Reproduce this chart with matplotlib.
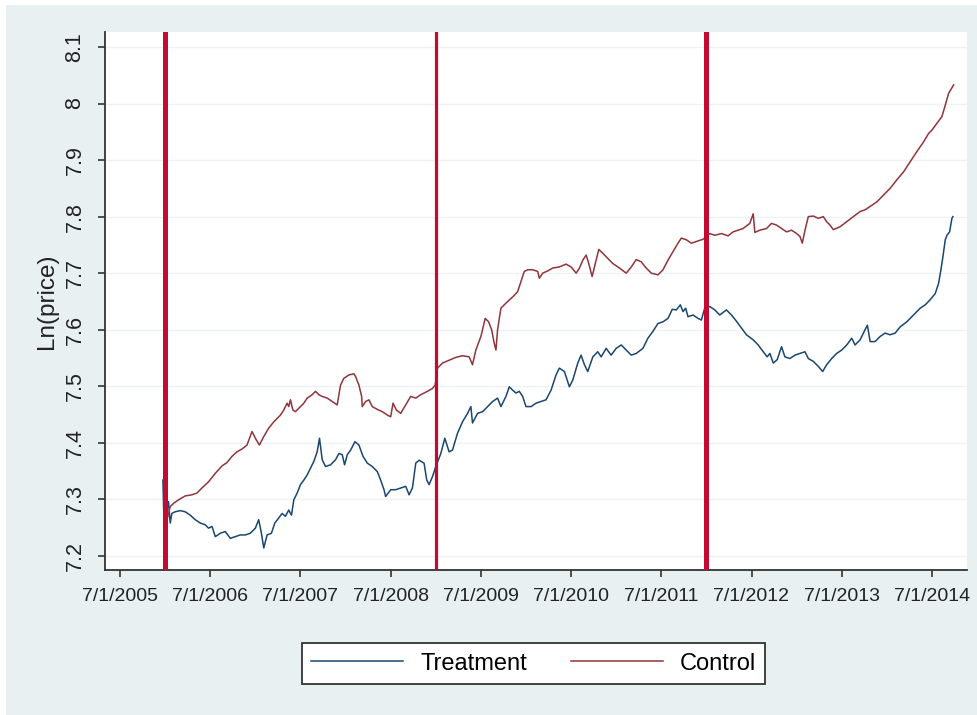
import matplotlib
matplotlib.use("Agg")
import matplotlib.pyplot as plt
from matplotlib.patches import Rectangle

plt.rcParams['font.family'] = ['Liberation Sans', 'DejaVu Sans']

# decimal years, values
treat_x = [2005.975, 2005.99, 2006.01, 2006.037, 2006.056, 2006.074, 2006.111, 2006.167,
           2006.222, 2006.278, 2006.333, 2006.389, 2006.444, 2006.481, 2006.519, 2006.556,
           2006.611, 2006.667, 2006.722, 2006.778, 2006.833, 2006.889, 2006.944, 2007.0,
           2007.037, 2007.067, 2007.093, 2007.130, 2007.178, 2007.215, 2007.259, 2007.296,
           2007.333, 2007.370, 2007.400, 2007.426, 2007.463, 2007.5, 2007.537, 2007.574,
           2007.611, 2007.648, 2007.685, 2007.711, 2007.741, 2007.778, 2007.833, 2007.889,
           2007.926, 2007.963, 2007.989, 2008.019, 2008.056, 2008.104, 2008.148, 2008.193,
           2008.241, 2008.296, 2008.352, 2008.389, 2008.426, 2008.444, 2008.5, 2008.556,
           2008.611, 2008.667, 2008.704, 2008.741, 2008.778, 2008.815, 2008.870, 2008.9,
           2008.926, 2008.963, 2009.0, 2009.056, 2009.1, 2009.148, 2009.185, 2009.241,
           2009.296, 2009.352, 2009.389, 2009.407, 2009.463, 2009.519, 2009.574, 2009.630,
           2009.685, 2009.722, 2009.778, 2009.815, 2009.852, 2009.889, 2009.926, 2009.963,
           2010.0, 2010.056, 2010.111, 2010.167, 2010.222, 2010.278, 2010.333, 2010.370,
           2010.426, 2010.481, 2010.519, 2010.574, 2010.611, 2010.648, 2010.685, 2010.741,
           2010.796, 2010.833, 2010.889, 2010.944, 2011.0, 2011.056, 2011.111, 2011.167,
           2011.222, 2011.296, 2011.352, 2011.407, 2011.463, 2011.519, 2011.574, 2011.622,
           2011.667, 2011.711, 2011.741, 2011.770, 2011.796, 2011.852, 2011.907, 2011.944,
           2011.981, 2012.037, 2012.093, 2012.148, 2012.222, 2012.278, 2012.333, 2012.389,
           2012.444, 2012.519, 2012.574, 2012.630, 2012.674, 2012.704, 2012.741, 2012.785,
           2012.833, 2012.870, 2012.926, 2012.981, 2013.037, 2013.093, 2013.130, 2013.185,
           2013.241, 2013.289, 2013.333, 2013.389, 2013.444, 2013.5, 2013.556, 2013.611,
           2013.648, 2013.704, 2013.759, 2013.785, 2013.815, 2013.870, 2013.926, 2013.981,
           2014.037, 2014.093, 2014.148, 2014.222, 2014.296, 2014.370, 2014.426, 2014.481,
           2014.537, 2014.574, 2014.6, 2014.622, 2014.648, 2014.667, 2014.696, 2014.722,
           2014.733]
treat_y = [7.334, 7.240, 7.272, 7.296, 7.258, 7.275, 7.278, 7.280,
           7.278, 7.272, 7.264, 7.258, 7.255, 7.249, 7.252, 7.234,
           7.240, 7.243, 7.231, 7.234, 7.237, 7.237, 7.240, 7.249,
           7.264, 7.240, 7.214, 7.237, 7.240, 7.258, 7.267, 7.275,
           7.270, 7.281, 7.272, 7.299, 7.311, 7.326, 7.334, 7.343,
           7.355, 7.367, 7.384, 7.408, 7.370, 7.358, 7.361, 7.370,
           7.381, 7.379, 7.361, 7.379, 7.387, 7.402, 7.396, 7.376,
           7.364, 7.358, 7.349, 7.334, 7.317, 7.305, 7.317, 7.317,
           7.320, 7.323, 7.308, 7.320, 7.364, 7.369, 7.364, 7.334,
           7.326, 7.340, 7.358, 7.381, 7.408, 7.384, 7.387, 7.417,
           7.437, 7.452, 7.464, 7.435, 7.452, 7.455, 7.464, 7.473,
           7.479, 7.464, 7.482, 7.499, 7.493, 7.488, 7.491, 7.482,
           7.464, 7.464, 7.470, 7.473, 7.476, 7.493, 7.520, 7.532,
           7.526, 7.499, 7.511, 7.541, 7.555, 7.538, 7.526, 7.552,
           7.561, 7.552, 7.567, 7.555, 7.567, 7.573, 7.564, 7.555,
           7.558, 7.567, 7.585, 7.597, 7.611, 7.614, 7.620, 7.636,
           7.635, 7.644, 7.632, 7.638, 7.623, 7.626, 7.620, 7.617,
           7.638, 7.641, 7.635, 7.626, 7.635, 7.626, 7.615, 7.603,
           7.591, 7.582, 7.573, 7.561, 7.552, 7.558, 7.541, 7.547,
           7.570, 7.552, 7.549, 7.555, 7.558, 7.561, 7.549, 7.544,
           7.535, 7.526, 7.538, 7.549, 7.558, 7.564, 7.573, 7.585,
           7.573, 7.582, 7.600, 7.608, 7.579, 7.579, 7.588, 7.594,
           7.591, 7.594, 7.605, 7.614, 7.626, 7.638, 7.644, 7.653,
           7.664, 7.682, 7.706, 7.729, 7.759, 7.767, 7.773, 7.797,
           7.800]

ctrl_x = [2005.99, 2006.03, 2006.056, 2006.093, 2006.148, 2006.222, 2006.296, 2006.352,
          2006.407, 2006.481, 2006.556, 2006.630, 2006.685, 2006.741, 2006.796, 2006.852,
          2006.907, 2006.963, 2007.0, 2007.044, 2007.093, 2007.148, 2007.204, 2007.241,
          2007.278, 2007.315, 2007.352, 2007.370, 2007.389, 2007.415, 2007.444, 2007.481,
          2007.537, 2007.574, 2007.630, 2007.667, 2007.704, 2007.741, 2007.796, 2007.852,
          2007.907, 2007.944, 2007.981, 2008.037, 2008.093, 2008.111, 2008.148, 2008.178,
          2008.185, 2008.222, 2008.259, 2008.296, 2008.352, 2008.407, 2008.463, 2008.5,
          2008.526, 2008.563, 2008.611, 2008.667, 2008.722, 2008.778, 2008.833, 2008.907,
          2008.963, 2008.993, 2009.019, 2009.074, 2009.148, 2009.222, 2009.296, 2009.370,
          2009.407, 2009.444, 2009.5, 2009.548, 2009.585, 2009.619, 2009.648, 2009.667,
          2009.685, 2009.722, 2009.778, 2009.852, 2009.907, 2009.944, 2009.981, 2010.019,
          2010.074, 2010.130, 2010.148, 2010.185, 2010.241, 2010.296, 2010.370, 2010.444,
          2010.5, 2010.556, 2010.593, 2010.630, 2010.667, 2010.696, 2010.733, 2010.778,
          2010.807, 2010.852, 2010.907, 2010.963, 2011.037, 2011.111, 2011.167, 2011.222,
          2011.278, 2011.333, 2011.389, 2011.463, 2011.519, 2011.574, 2011.630, 2011.685,
          2011.722, 2011.778, 2011.833, 2011.889, 2011.963, 2012.037, 2012.093, 2012.167,
          2012.241, 2012.296, 2012.370, 2012.407, 2012.481, 2012.519, 2012.537, 2012.593,
          2012.667, 2012.722, 2012.778, 2012.833, 2012.889, 2012.944, 2013.0, 2013.037,
          2013.063, 2013.093, 2013.130, 2013.185, 2013.241, 2013.296, 2013.333, 2013.370,
          2013.407, 2013.481, 2013.556, 2013.630, 2013.704, 2013.759, 2013.815, 2013.889,
          2013.963, 2014.037, 2014.111, 2014.185, 2014.259, 2014.333, 2014.407, 2014.463,
          2014.5, 2014.556, 2014.611, 2014.648, 2014.685, 2014.741]
ctrl_y = [7.240, 7.270, 7.287, 7.293, 7.299, 7.306, 7.308, 7.311,
          7.320, 7.331, 7.346, 7.359, 7.365, 7.376, 7.384, 7.389,
          7.396, 7.420, 7.408, 7.396, 7.411, 7.426, 7.437, 7.443,
          7.449, 7.458, 7.470, 7.464, 7.476, 7.458, 7.455, 7.461,
          7.470, 7.479, 7.485, 7.491, 7.485, 7.482, 7.479, 7.473,
          7.467, 7.502, 7.514, 7.520, 7.522, 7.517, 7.502, 7.482,
          7.464, 7.473, 7.476, 7.464, 7.459, 7.455, 7.449, 7.446,
          7.470, 7.458, 7.452, 7.467, 7.482, 7.479, 7.485, 7.491,
          7.496, 7.502, 7.532, 7.541, 7.546, 7.551, 7.554, 7.552,
          7.538, 7.564, 7.588, 7.620, 7.614, 7.600, 7.576, 7.564,
          7.600, 7.638, 7.647, 7.658, 7.667, 7.685, 7.703, 7.706,
          7.706, 7.703, 7.691, 7.700, 7.704, 7.709, 7.711, 7.716,
          7.711, 7.700, 7.709, 7.723, 7.732, 7.717, 7.694, 7.723,
          7.742, 7.735, 7.726, 7.717, 7.709, 7.700, 7.711, 7.724,
          7.720, 7.709, 7.700, 7.697, 7.706, 7.723, 7.738, 7.753,
          7.762, 7.759, 7.753, 7.756, 7.760, 7.770, 7.767, 7.770,
          7.766, 7.773, 7.777, 7.779, 7.788, 7.805, 7.772, 7.776,
          7.779, 7.788, 7.785, 7.779, 7.773, 7.776, 7.770, 7.765,
          7.753, 7.776, 7.800, 7.801, 7.797, 7.800, 7.791, 7.785,
          7.777, 7.782, 7.791, 7.800, 7.809, 7.812, 7.818, 7.826,
          7.838, 7.850, 7.865, 7.879, 7.897, 7.915, 7.932, 7.947,
          7.953, 7.965, 7.977, 7.997, 8.018, 8.033]

break_years = [2006.0, 2009.0, 2012.0]
break_widths = [3.6, 2.3, 3.6]
tick_years = list(range(2005, 2015))
tick_labels = ["7/1/%d" % y for y in tick_years]
y_ticks = [7.2, 7.3, 7.4, 7.5, 7.6, 7.7, 7.8, 7.9, 8.0, 8.1]

fig = plt.figure(figsize=(9.78, 7.15), dpi=100)
fig.patch.set_facecolor("white")
fig.patches.append(Rectangle((6 / 978, 0), 1, 1 - 5 / 715, transform=fig.transFigure,
                             facecolor="#e9f0f2", edgecolor="none", zorder=-10))

ax = fig.add_axes([105 / 978, 1 - 570 / 715, 862 / 978, 538 / 715])
ax.set_facecolor("white")

ax.plot(treat_x, treat_y, color="#1a476f", lw=1.1, label="Treatment", zorder=3)
ax.plot(ctrl_x, ctrl_y, color="#90353b", lw=1.1, label="Control", zorder=3)
for bx, bw in zip(break_years, break_widths):
    ax.axvline(bx, color="#c30a32", lw=bw, zorder=4)

ax.set_xlim(2005.333, 2014.889)
ax.set_ylim(7.175, 8.1265)
ax.set_xticks([y + 0.5 for y in tick_years])
ax.set_xticklabels(tick_labels)
ax.set_yticks(y_ticks)
ax.set_yticklabels(["%g" % v for v in y_ticks], rotation=90, va="center", fontsize=15.5)
ax.yaxis.grid(True, color="#eef2f4", lw=1.0, zorder=0)
ax.set_axisbelow(True)

for s in ["top", "right"]:
    ax.spines[s].set_visible(False)
for s in ["left", "bottom"]:
    ax.spines[s].set_color("#333333")
    ax.spines[s].set_linewidth(1.3)
ax.tick_params(axis="both", colors="#333333", labelcolor="#222222", length=5, width=1.2)
ax.tick_params(axis="x", pad=8, labelsize=14)
ax.tick_params(axis="y", pad=9)
ax.set_ylabel("Ln(price)", fontsize=17.5, color="#222222", labelpad=5)

fig.legend(loc="center", bbox_to_anchor=(533.5 / 978, 1 - 663.5 / 715), ncol=2,
           fontsize=17, frameon=True, fancybox=False, edgecolor="#333333",
           framealpha=1, handlelength=3.9, handletextpad=0.72, columnspacing=1.86,
           borderpad=0.4, borderaxespad=0)
leg = fig.legends[0]
leg.get_frame().set_linewidth(1.3)
leg.get_frame().set_facecolor("white")

fig.savefig("out.png", dpi=100, facecolor=fig.get_facecolor())
